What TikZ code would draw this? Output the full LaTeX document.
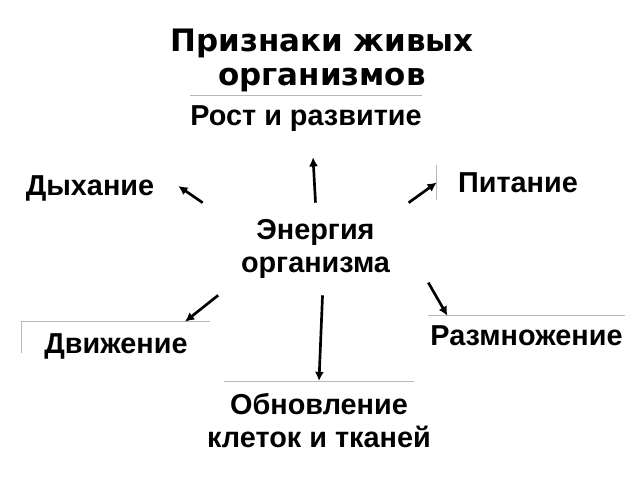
\documentclass[tikz,border=0pt]{standalone}
\usepackage{fontspec}
\setmainfont{Liberation Sans}
\newfontfamily\titlefont{DejaVu Sans Bold}
\usetikzlibrary{arrows.meta}

\tikzset{
	lbl/.style={font=\bfseries\fontsize{20.5}{23.4}\selectfont, inner sep=0pt},
	arr/.style={-{Latex[length=6.5pt,width=6.5pt]}, line width=1.9pt},
	rim/.style={gray!55, line width=0.6pt}
}

\begin{document}
\begin{tikzpicture}[x=0.025cm, y=-0.025cm]
	  \useasboundingbox (0,0) rectangle (640,480);

	  % Define nodes
	  \node[inner sep=0pt, anchor=north, align=center, font=\titlefont\fontsize{22}{24.2}\selectfont]
	    (title) at (322,29) {Признаки живых\\организмов};
	  \node[lbl, align=center, minimum width=5.625cm, minimum height=2.3cm] (en) at (315.5,249) {Энергия\\организма};
	  \node[lbl, anchor=base, minimum width=4.65cm, text height=0.725cm, text depth=0.8cm] (ro) at (306,125) {Рост и развитие};
	  \node[lbl, anchor=base, minimum width=4.4cm, text height=0.6cm, text depth=0.15cm] (dy) at (90,195) {Дыхание};
	  \node[lbl, anchor=base, minimum width=4.05cm, text height=0.675cm, text depth=0.2cm] (pi) at (518,192) {Питание};
	  \node[lbl, anchor=base, minimum width=4.7cm, text height=0.775cm, text depth=0cm] (dv) at (116,353) {Движение};
	  \node[lbl, anchor=base, minimum width=4.925cm, text height=0.725cm, text depth=0.2cm] (rz) at (526.5,345) {Размножение};
	  \node[lbl, anchor=north, align=center, inner xsep=-0.425cm, inner ysep=0.3cm] (ob) at (319,381) {Обновление\\клеток и тканей};

	  % Box edges
	  \draw[rim] (ro.north west) -- (ro.north east);
	  \draw[rim] (pi.north west) -- (pi.south west);
	  \draw[rim] (dv.south west) |- (dv.north east);
	  \draw[rim] (rz.north west) -- (rz.north east);
	  \draw[rim] (ob.north west) -- (ob.north east);

	  % Connect the nodes
	  \draw[arr] (en.north) -- ([xshift=5pt]ro.south);
	  \draw[arr] (en.north west) -- (dy.east);
	  \draw[arr] ([xshift=-14pt]en.north east) -- (pi.west);
	  \draw[arr] ([xshift=11pt]en.south west) -- ([xshift=-18pt]dv.north east);
	  \draw[arr] ([yshift=9pt]en.south east) -- ([xshift=14pt]rz.north west);
	  \draw[arr] ([xshift=5pt]en.south) -- (ob.north);
	\end{tikzpicture}
\end{document}
